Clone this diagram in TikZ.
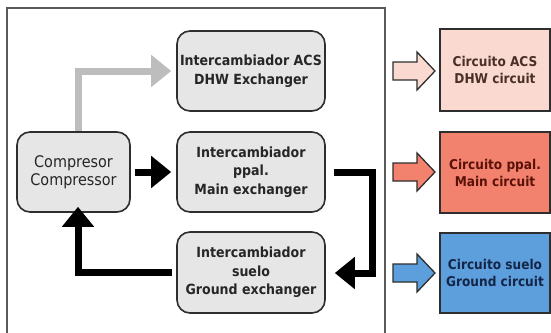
\documentclass[tikz,border=0pt]{standalone}
\usepackage{fontspec}
\setmainfont{DejaVu Sans Condensed}
\usetikzlibrary{arrows.meta}
\definecolor{nodefill}{HTML}{E6E6E6}
\definecolor{nodeline}{HTML}{2E2E2E}
\definecolor{framecol}{HTML}{5A5A5A}
\definecolor{graycon}{HTML}{BDBDBD}
\definecolor{acsfill}{HTML}{FADAD0}
\definecolor{mainfill}{HTML}{F2826E}
\definecolor{gndfill}{HTML}{5C9FDC}
\definecolor{acstext}{HTML}{4A2E28}
\definecolor{maintext}{HTML}{5A1208}
\definecolor{gndtext}{HTML}{142548}
\tikzset{
  exch/.style={draw=nodeline, line width=1.6pt, fill=nodefill, rounded corners=13pt,
    minimum width=148pt, minimum height=80pt, align=center, inner sep=0pt,
    font=\fontsize{14}{18.5}\selectfont\bfseries, text=black!85},
  comp/.style={exch, minimum width=113pt, font=\fontsize{16}{18.5}\selectfont},
  circ/.style={draw=nodeline, line width=1.4pt, minimum width=110pt, minimum height=81pt,
    align=center, inner sep=0pt, font=\fontsize{13.5}{17}\selectfont\bfseries},
  flow/.style={line width=7pt, -{Triangle[width=31pt,length=20pt]}},
  hollow/.style={draw=nodeline, line width=1.3pt, line join=miter},
}
\begin{document}
\begin{tikzpicture}[x=1pt,y=-1pt]
\useasboundingbox (0,0) rectangle (551,332);
\fill[white] (0,0) rectangle (551,332);
\draw[framecol, line width=1.5pt] (7,8) rectangle (385,334);

\node[exch] (acs) at (251,71) {Intercambiador ACS\\DHW Exchanger};
\node[comp] (comp) at (73.5,172) {Compresor\\Compressor};
\node[exch] (main) at (251,172) {Intercambiador\\ppal.\\Main exchanger};
\node[exch, minimum height=81pt] (gnd) at (251,272.5) {Intercambiador\\suelo\\Ground exchanger};

\node[circ, fill=acsfill, text=acstext, minimum height=82pt] (cacs) at (495,70) {Circuito ACS\\DHW circuit};
\node[circ, fill=mainfill, text=maintext] (cmain) at (495,172.5) {Circuito ppal.\\Main circuit};
\node[circ, fill=gndfill, text=gndtext, minimum height=80pt] (cgnd) at (495,273) {Circuito suelo\\Ground circuit};

% connectors
\draw[flow, graycon] (comp.north -| 78,0) -- (78,71) -- ([xshift=-5pt]acs.west |- 0,71);
\draw[flow, black] ([xshift=4pt]comp.east) -- ([xshift=-5pt]main.west);
\draw[flow, black] ([xshift=8pt]main.east) -- (372,172) -- (372,273) -- ([xshift=9pt]gnd.east |- 0,273);
\draw[flow, black] ([xshift=-4pt]gnd.west |- 0,272) -- (78,272) -- ([yshift=6pt]comp.south -| 78,0);

% hollow arrows
\foreach \y/\c/\n in {71/acsfill/ha, 172/mainfill/hm, 273/gndfill/hg}{
  \draw[hollow, fill=\c] (393,\y-9) -- (417,\y-9) -- (417,\y-19) -- (435,\y) -- (417,\y+19) -- (417,\y+9) -- (393,\y+9) -- cycle;
}
\end{tikzpicture}
\end{document}
